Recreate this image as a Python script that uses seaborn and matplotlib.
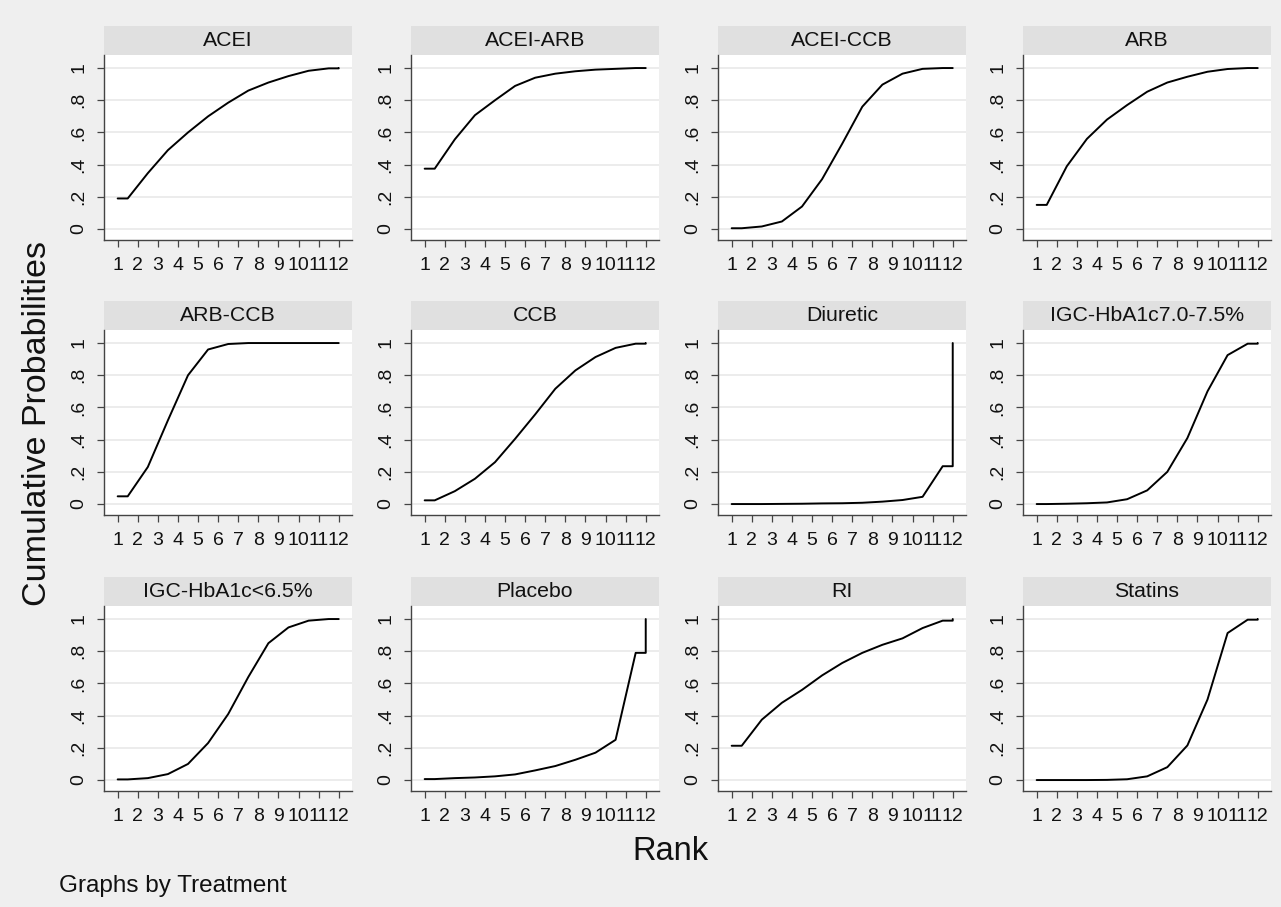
import numpy as np
import pandas as pd
import matplotlib
matplotlib.use("Agg")
import matplotlib.pyplot as plt
import seaborn as sns
from matplotlib.patches import Rectangle

# ---------------- data (cumulative probability of being at rank <= k) ----------------
treatments = ["ACEI", "ACEI-ARB", "ACEI-CCB", "ARB",
              "ARB-CCB", "CCB", "Diuretic", "IGC-HbA1c7.0-7.5%",
              "IGC-HbA1c<6.5%", "Placebo", "RI", "Statins"]
ranks = list(range(1, 13))

acei      = [0.19, 0.347, 0.49, 0.60, 0.70, 0.785, 0.86, 0.91, 0.95, 0.983, 0.998, 1.0]
acei_arb  = [0.375, 0.557, 0.707, 0.80, 0.889, 0.94, 0.965, 0.98, 0.99, 0.995, 1.0, 1.0]
acei_ccb  = [0.005, 0.016, 0.047, 0.14, 0.31, 0.53, 0.76, 0.897, 0.965, 0.995, 1.0, 1.0]
arb       = [0.15, 0.39, 0.56, 0.68, 0.77, 0.853, 0.91, 0.946, 0.977, 0.994, 1.0, 1.0]
arb_ccb   = [0.048, 0.23, 0.52, 0.80, 0.96, 0.994, 1.0, 1.0, 1.0, 1.0, 1.0, 1.0]
ccb       = [0.023, 0.08, 0.157, 0.26, 0.405, 0.557, 0.716, 0.83, 0.913, 0.97, 0.996, 1.0]
diuretic  = [0.0, 0.0, 0.001, 0.002, 0.004, 0.005, 0.008, 0.015, 0.025, 0.045, 0.235, 1.0]
igc_75    = [0.0, 0.002, 0.005, 0.01, 0.03, 0.085, 0.20, 0.41, 0.70, 0.925, 0.996, 1.0]
igc_65    = [0.004, 0.012, 0.037, 0.10, 0.23, 0.41, 0.64, 0.85, 0.948, 0.99, 1.0, 1.0]
placebo   = [0.006, 0.012, 0.016, 0.023, 0.035, 0.06, 0.087, 0.126, 0.17, 0.25, 0.79, 1.0]
ri        = [0.213, 0.375, 0.48, 0.56, 0.65, 0.727, 0.79, 0.84, 0.88, 0.944, 0.99, 1.0]
statins   = [0.0, 0.0, 0.0, 0.001, 0.005, 0.023, 0.08, 0.215, 0.50, 0.913, 0.996, 1.0]

series = [acei, acei_arb, acei_ccb, arb, arb_ccb, ccb, diuretic, igc_75,
          igc_65, placebo, ri, statins]

y_ticks = [0, 0.2, 0.4, 0.6, 0.8, 1.0]
y_ticklabels = ["0", ".2", ".4", ".6", ".8", "1"]

# ---------------- build long table (Stata-style step-centred path) ----------------
rows = []
for name, cum in zip(treatments, series):
    xs = [ranks[0]] + [r + 0.5 for r in ranks[:-1]] + [ranks[-1], ranks[-1]]
    ys = [cum[0]] + cum[:-1] + [cum[-2], cum[-1]]
    for x, y in zip(xs, ys):
        rows.append({"Treatment": name, "Rank": x, "Prob": y})
df = pd.DataFrame(rows)

# ---------------- styling ----------------
BG = "#efefef"
STRIP = "#e0e0e0"
GRID = "#ebebeb"
AXC = "#444444"

sns.set_style("white")
plt.rcParams["font.family"] = ["Liberation Sans", "DejaVu Sans"]
plt.rcParams["figure.facecolor"] = BG

W, H = 1281, 907
g = sns.relplot(data=df, x="Rank", y="Prob", col="Treatment", col_order=treatments,
                col_wrap=4, kind="line", sort=False, estimator=None,
                color="black", linewidth=1.4,
                facet_kws=dict(sharex=False, sharey=False))
fig = g.figure
fig.set_size_inches(W / 100, H / 100)
fig.set_dpi(100)
fig.patch.set_facecolor(BG)
g.set_titles("")
g.set_axis_labels("", "")

col_left = [104, 411, 718, 1023]
ax_w = 248
row_top = [55, 330, 606]
ax_h = 185
strip_h = 29

for idx, (ax, name) in enumerate(zip(g.axes.flat, treatments)):
    r, c = divmod(idx, 4)
    left = col_left[c] / W
    bottom = 1 - (row_top[r] + ax_h) / H
    ax.set_position([left, bottom, ax_w / W, ax_h / H])
    ax.set_facecolor("white")
    ax.set_xlim(0.32, 12.66)
    ax.set_ylim(-0.068, 1.081)
    ax.set_xticks(ranks)
    ax.set_xticklabels([str(v) for v in ranks])
    ax.set_yticks(y_ticks)
    ax.set_yticklabels(y_ticklabels, rotation=90, va="center")
    for yv in y_ticks:
        ax.axhline(yv, color=GRID, linewidth=1.3, zorder=0)
    for s in ["top", "right"]:
        ax.spines[s].set_visible(False)
    for s in ["left", "bottom"]:
        ax.spines[s].set_visible(True)
        ax.spines[s].set_color(AXC)
        ax.spines[s].set_linewidth(1.0)
    ax.tick_params(axis="both", direction="out", length=5, width=0.9, color=AXC,
                   labelsize=14, labelcolor="#111111", pad=7,
                   bottom=True, left=True, labelbottom=True, labelleft=True)
    ax.set_xlabel("")
    ax.set_ylabel("")
    # strip
    ax.add_patch(Rectangle((0, 1), 1, strip_h / ax_h, transform=ax.transAxes,
                           facecolor=STRIP, edgecolor="none", clip_on=False))
    ax.text(0.5, 1 + strip_h / ax_h / 2, name, transform=ax.transAxes,
            ha="center", va="center", fontsize=15.3, color="#111111")

fig.text(38 / W, 1 - 423 / H, "Cumulative Probabilities", rotation=90,
         ha="center", va="center", fontsize=24.5, color="#111111")
fig.text(670 / W, 1 - 852 / H, "Rank", ha="center", va="center",
         fontsize=23.5, color="#111111")
fig.text(59 / W, 1 - 886 / H, "Graphs by Treatment", ha="left", va="center",
         fontsize=17.5, color="#111111")

fig.savefig("out.png", dpi=100, facecolor=BG)
